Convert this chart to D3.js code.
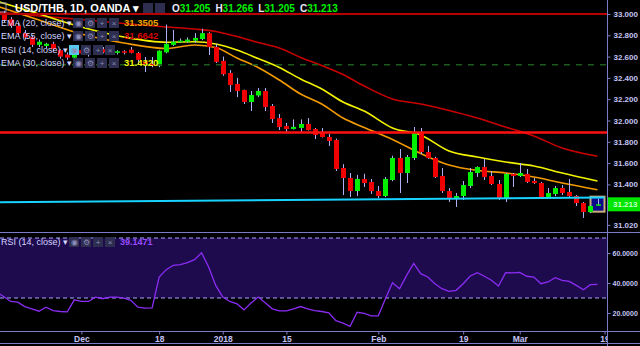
<!DOCTYPE html>
<html>
<head>
<meta charset="utf-8">
<title>USD/THB 1D</title>
<style>
  body { margin: 0; background: #000; }
  svg { display: block; font-family: "Liberation Sans", Arial, sans-serif; }
  .axis path { display: none; }
  .axis line { stroke: #7b7bc8; }
  .axis text { fill: #c4c4f4; font-size: 8px; font-weight: bold; }
  .axis.rsi text { font-size: 7px; }
  .axis.time text { font-size: 8.5px; }
  .leg { fill: #d4d4ff; font-size: 9px; }
</style>
</head>
<body>
<script src="https://cdn.jsdelivr.net/npm/d3@7"></script>
<script>
// daily candles, Nov 15 2017 .. Mar 16 2018
var dates = ["2017-11-15","2017-11-16","2017-11-17","2017-11-20","2017-11-21","2017-11-22","2017-11-23","2017-11-24",
  "2017-11-27","2017-11-28","2017-11-29","2017-11-30","2017-12-01","2017-12-04","2017-12-05","2017-12-06","2017-12-07",
  "2017-12-08","2017-12-11","2017-12-12","2017-12-13","2017-12-14","2017-12-15","2017-12-18","2017-12-19","2017-12-20",
  "2017-12-21","2017-12-22","2017-12-26","2017-12-27","2017-12-28","2017-12-29","2018-01-02","2018-01-03","2018-01-04",
  "2018-01-05","2018-01-08","2018-01-09","2018-01-10","2018-01-11","2018-01-12","2018-01-15","2018-01-16","2018-01-17",
  "2018-01-18","2018-01-19","2018-01-22","2018-01-23","2018-01-24","2018-01-25","2018-01-26","2018-01-29","2018-01-30",
  "2018-01-31","2018-02-01","2018-02-02","2018-02-05","2018-02-06","2018-02-07","2018-02-08","2018-02-09","2018-02-12",
  "2018-02-13","2018-02-14","2018-02-15","2018-02-16","2018-02-19","2018-02-20","2018-02-21","2018-02-22","2018-02-23",
  "2018-02-26","2018-02-27","2018-02-28","2018-03-01","2018-03-02","2018-03-05","2018-03-06","2018-03-07","2018-03-08",
  "2018-03-09","2018-03-12","2018-03-13","2018-03-14","2018-03-15","2018-03-16"];
var open = [33.04,33.01,32.95,32.89,32.82,32.78,32.71,32.70,32.72,32.66,32.62,32.59,32.66,32.65,32.63,32.67,32.645,
  32.635,32.65,32.665,32.634,32.55,32.53,32.515,32.64,32.71,32.745,32.74,32.75,32.765,32.82,32.69,32.56,32.446,32.343,
  32.286,32.174,32.235,32.277,32.136,32.023,31.948,31.92,31.93,31.967,31.92,31.883,31.845,31.817,31.554,31.46,31.338,
  31.451,31.423,31.338,31.291,31.441,31.648,31.507,31.648,31.883,31.704,31.648,31.479,31.338,31.263,31.291,31.385,
  31.507,31.563,31.479,31.404,31.272,31.498,31.48,31.498,31.432,31.413,31.282,31.31,31.366,31.329,31.291,31.225,
  31.141,31.205];
var high = [33.07,33.03,32.97,32.92,32.85,32.80,32.76,32.73,32.74,32.67,32.64,32.68,32.68,32.67,32.68,32.69,32.67,
  32.66,32.66,32.69,32.645,32.596,32.596,32.66,32.90,32.85,32.77,32.78,32.82,32.86,32.83,32.72,32.60,32.474,32.40,
  32.29,32.277,32.305,32.305,32.155,32.061,31.977,32.01,32.01,32.023,31.93,31.93,31.873,31.83,31.59,31.507,31.49,
  31.50,31.45,31.385,31.47,31.67,31.732,31.676,31.939,31.93,31.761,31.66,31.554,31.366,31.319,31.432,31.554,31.57,
  31.638,31.526,31.441,31.507,31.507,31.601,31.545,31.46,31.423,31.366,31.385,31.394,31.451,31.30,31.235,31.207,
  31.266];
var low = [32.98,32.92,32.87,32.80,32.76,32.69,32.69,32.68,32.65,32.58,32.57,32.56,32.62,32.60,32.62,32.63,32.62,
  32.62,32.62,32.63,32.52,32.455,32.50,32.50,32.63,32.70,32.73,32.73,32.73,32.755,32.615,32.54,32.42,32.268,32.22,
  32.155,32.089,32.22,32.089,31.977,31.911,31.883,31.915,31.883,31.905,31.826,31.84,31.761,31.526,31.30,31.282,31.29,
  31.376,31.31,31.27,31.28,31.43,31.319,31.413,31.629,31.685,31.64,31.46,31.319,31.235,31.188,31.254,31.366,31.47,
  31.441,31.394,31.254,31.235,31.376,31.469,31.413,31.404,31.272,31.275,31.29,31.30,31.282,31.197,31.085,31.13,
  31.205];
var close = [33.00,32.945,32.89,32.82,32.78,32.71,32.74,32.72,32.67,32.60,32.59,32.645,32.63,32.62,32.665,32.64,32.635,
  32.65,32.64,32.635,32.57,32.525,32.515,32.655,32.72,32.74,32.75,32.76,32.775,32.82,32.69,32.55,32.435,32.333,32.277,
  32.174,32.239,32.277,32.127,32.014,31.939,31.92,31.94,31.967,31.911,31.864,31.845,31.808,31.545,31.46,31.338,31.451,
  31.413,31.338,31.291,31.451,31.648,31.507,31.657,31.883,31.704,31.648,31.469,31.338,31.263,31.291,31.394,31.516,
  31.563,31.469,31.404,31.272,31.498,31.479,31.507,31.423,31.413,31.282,31.319,31.366,31.319,31.291,31.225,31.141,
  31.197,31.213];
var rsi = [33.9,31.0,27.7,27.2,24.3,22.8,21.2,23.9,21.6,21.0,20.8,28.8,27.7,27.7,30.6,29.5,30.6,30.6,29.9,28.4,
  23.9,23.2,23.4,44.0,48.9,51.8,52.3,53.6,55.6,60.1,50.7,38.4,30.6,27.7,26.1,22.1,26.6,30.6,26.8,22.8,
  21.4,21.4,22.8,24.3,22.8,21.6,21.0,20.1,14.9,13.2,11.1,20.5,19.8,18.1,18.1,29.5,40.2,36.2,45.1,53.0,
  46.2,44.0,39.5,36.2,34.4,35.1,39.5,44.7,46.9,44.5,41.8,38.0,46.9,46.7,47.1,44.5,44.0,39.5,40.7,43.6,
  41.8,41.1,38.4,35.5,38.9,39.1471];

// moving averages read at a few candles
var emaIdx = [0, 6, 12, 18, 24, 28, 31, 34, 37, 40, 43, 46, 49, 52, 56, 60, 64, 68, 72, 76, 80, 85];
var ema20 = [33.075, 32.944, 32.812, 32.728, 32.676, 32.709, 32.685, 32.587, 32.498, 32.380, 32.249, 32.155,
  32.023, 31.934, 31.822, 31.690, 31.582, 31.531, 31.507, 31.469, 31.413, 31.3505];
var ema30 = [33.122, 33.000, 32.878, 32.784, 32.735, 32.739, 32.718, 32.662, 32.582, 32.498, 32.390, 32.296,
  32.174, 32.089, 31.930, 31.864, 31.714, 31.657, 31.610, 31.573, 31.507, 31.432];
var ema55 = [33.019, 32.981, 32.948, 32.911, 32.878, 32.859, 32.836, 32.789, 32.732, 32.681, 32.592, 32.516,
  32.432, 32.324, 32.202, 32.155, 32.094, 32.023, 31.939, 31.854, 31.742, 31.6642];

var priceTicks = [33.0, 32.8, 32.6, 32.4, 32.2, 32.0, 31.8, 31.6, 31.4, 31.02];
var rsiTicks = [20, 40, 60];
var rsiBands = [70, 30];
var xTickIdx = [12, 23, 32, 41, 54, 66, 74, 86];
var xTickLabels = ["Dec", "18", "2018", "15", "Feb", "19", "Mar", "19"];
var topLevel = 33.0, redLevel = 31.887, dashLevel = 32.524;
var trendIdx = [0, 86], trendVal = [31.233, 31.277];
var last = {o: 31.205, h: 31.266, l: 31.205, c: 31.213};

var W = 640, H = 346, plotR = 607, split = 232, rsiBottom = 331;

var svg = d3.select("body").append("svg")
    .attr("width", W)
    .attr("height", H);
svg.append("rect").attr("width", W).attr("height", H).attr("fill", "#000");

var x = d3.scaleLinear().domain([0, 85]).range([-3.45, 597.5]);
var y = d3.scaleLinear().domain([31, 33]).range([227, 14]);
var yR = d3.scaleLinear().domain([20, 60]).range([313, 253]);

var defs = svg.append("defs");
defs.append("clipPath").attr("id", "cp").append("rect")
    .attr("x", 0).attr("y", 0).attr("width", plotR).attr("height", split);
defs.append("clipPath").attr("id", "cr").append("rect")
    .attr("x", 0).attr("y", split).attr("width", plotR).attr("height", rsiBottom - split);
defs.append("clipPath").attr("id", "cx").append("rect")
    .attr("x", 0).attr("y", rsiBottom).attr("width", plotR).attr("height", H - rsiBottom);

// ---- RSI pane
var gr = svg.append("g").attr("clip-path", "url(#cr)");
gr.append("rect")
    .attr("x", 0).attr("width", plotR)
    .attr("y", yR(rsiBands[0])).attr("height", yR(rsiBands[1]) - yR(rsiBands[0]))
    .attr("fill", "#1e0b4d");
gr.selectAll("line.band").data(rsiBands).enter().append("line")
    .attr("x1", 0).attr("x2", plotR)
    .attr("y1", function (d) { return yR(d); })
    .attr("y2", function (d) { return yR(d); })
    .attr("stroke", "#a8a8ff").attr("stroke-dasharray", "4,3");
gr.append("path")
    .datum(rsi)
    .attr("fill", "none")
    .attr("stroke", "#8b2cf5")
    .attr("stroke-width", 1.3)
    .attr("d", d3.line()
        .x(function (d, i) { return x(i); })
        .y(function (d) { return yR(d); }));

// ---- price pane
var gp = svg.append("g").attr("clip-path", "url(#cp)");

function emaLine(vals, color) {
    gp.append("path")
        .datum(vals)
        .attr("fill", "none")
        .attr("stroke", color)
        .attr("stroke-width", 1.6)
        .attr("d", d3.line()
            .curve(d3.curveMonotoneX)
            .x(function (d, k) { return x(emaIdx[k]); })
            .y(function (d) { return y(d); }));
}
emaLine(ema55, "#c80000");
emaLine(ema30, "#f2f200");
emaLine(ema20, "#f29a00");

// box round the last bar
gp.append("rect")
    .attr("x", x(85) - 7).attr("width", 14)
    .attr("y", y(last.h) - 2).attr("height", 15)
    .attr("fill", "#0b0b8a")
    .attr("stroke", "#c9ad7c").attr("stroke-width", 2);

var bars = gp.selectAll("g.bar").data(d3.range(dates.length)).enter().append("g");
bars.append("line")
    .attr("x1", function (i) { return Math.round(x(i)) + 0.5; })
    .attr("x2", function (i) { return Math.round(x(i)) + 0.5; })
    .attr("y1", function (i) { return y(high[i]); })
    .attr("y2", function (i) { return y(low[i]); })
    .attr("stroke", "#b0b0f8");
bars.append("rect")
    .attr("x", function (i) { return Math.round(x(i)) - 2; })
    .attr("width", 5)
    .attr("y", function (i) { return y(Math.max(open[i], close[i])); })
    .attr("height", function (i) { return Math.max(1.5, Math.abs(y(open[i]) - y(close[i]))); })
    .attr("fill", function (i) { return close[i] >= open[i] ? "#00f000" : "#f00000"; });

// drawings
gp.append("line").attr("x1", 0).attr("x2", plotR)
    .attr("y1", y(dashLevel)).attr("y2", y(dashLevel))
    .attr("stroke", "#1d5a1d").attr("stroke-width", 1.5).attr("stroke-dasharray", "6,6");
gp.append("line").attr("x1", 0).attr("x2", plotR)
    .attr("y1", y(topLevel)).attr("y2", y(topLevel))
    .attr("stroke", "#b80000").attr("stroke-width", 2);
gp.append("line").attr("x1", 0).attr("x2", plotR)
    .attr("y1", y(redLevel)).attr("y2", y(redLevel))
    .attr("stroke", "#ff1010").attr("stroke-width", 2.5);
gp.append("line")
    .attr("x1", x(trendIdx[0])).attr("x2", x(trendIdx[1]))
    .attr("y1", y(trendVal[0])).attr("y2", y(trendVal[1]))
    .attr("stroke", "#18d2ff").attr("stroke-width", 2);

// ---- frame and axes
var frame = "#7b7bc8";
svg.append("line").attr("x1", plotR + 0.5).attr("x2", plotR + 0.5).attr("y1", 0).attr("y2", H)
    .attr("stroke", frame);
svg.append("line").attr("x1", 0).attr("x2", W).attr("y1", split + 0.5).attr("y2", split + 0.5)
    .attr("stroke", frame);
svg.append("line").attr("x1", 0).attr("x2", W).attr("y1", rsiBottom + 0.5).attr("y2", rsiBottom + 0.5)
    .attr("stroke", frame);
svg.append("line").attr("x1", 0).attr("x2", W).attr("y1", H - 2.5).attr("y2", H - 2.5)
    .attr("stroke", frame);

svg.append("g")
    .attr("class", "axis")
    .attr("transform", "translate(" + (plotR + 0.5) + ",0)")
    .call(d3.axisRight(y).tickValues(priceTicks).tickFormat(d3.format(".3f")).tickSize(3));
svg.append("g")
    .attr("class", "axis rsi")
    .attr("transform", "translate(" + (plotR + 0.5) + ",0)")
    .call(d3.axisRight(yR).tickValues(rsiTicks).tickFormat(d3.format(".4f")).tickSize(3).tickPadding(2));
svg.append("g")
    .attr("class", "axis time")
    .attr("clip-path", "url(#cx)")
    .append("g")
    .attr("transform", "translate(0," + (rsiBottom + 0.5) + ")")
    .call(d3.axisBottom(x).tickValues(xTickIdx)
        .tickFormat(function (d, k) { return xTickLabels[k]; }).tickSize(3))
    .selectAll("text").attr("dy", "0.55em");

// last price tag
svg.append("rect")
    .attr("x", plotR + 1).attr("width", W - plotR)
    .attr("y", y(last.c) - 7).attr("height", 14)
    .attr("fill", "#00e600");
svg.append("text")
    .attr("x", plotR + 6).attr("y", y(last.c)).attr("dy", "0.35em")
    .attr("fill", "#c8ffc8").style("font-size", "8px").style("font-weight", "bold")
    .text(d3.format(".3f")(last.c));

// ---- legend
function icons(x0, yc, hl) {
    var glyph = ["\u25C9", "\u2699", "+", "\u00D7"];
    glyph.forEach(function (g, k) {
        svg.append("rect")
            .attr("x", x0 + k * 12).attr("y", yc - 5)
            .attr("width", 10).attr("height", 10)
            .attr("fill", hl && k === 0 ? "#58c8f0" : "#2e2e50");
        svg.append("text")
            .attr("x", x0 + k * 12 + 5).attr("y", yc).attr("dy", "0.35em")
            .attr("text-anchor", "middle")
            .attr("fill", "#8c8cb8").style("font-size", "8px")
            .text(g);
    });
}

svg.append("rect").attr("x", -2).attr("y", 3).attr("width", 8).attr("height", 9)
    .attr("fill", "none").attr("stroke", "#9a9ab8");
svg.append("text")
    .attr("x", 15).attr("y", 8).attr("dy", "0.35em")
    .attr("fill", "#ffffff").style("font-size", "11px").style("font-weight", "bold")
    .text("USD/THB, 1D, OANDA \u25BE");
[[143, 0], [155, 1]].forEach(function (p) {
    svg.append("rect").attr("x", p[0]).attr("y", 3).attr("width", 10).attr("height", 10)
        .attr("fill", "#2e2e50");
});
var ohlc = svg.append("text")
    .attr("x", 172).attr("y", 8).attr("dy", "0.35em")
    .style("font-size", "10px").style("font-weight", "bold");
[["O", last.o], ["H", last.h], ["L", last.l], ["C", last.c]].forEach(function (p, k) {
    ohlc.append("tspan").attr("fill", "#e8e8ff").attr("dx", k ? 5 : 0).text(p[0]);
    ohlc.append("tspan").attr("fill", "#00f000").text(d3.format(".3f")(p[1]));
});

var legendRows = [
    {label: "EMA (20, close) \u25BE", yc: 23, ix: 73, value: "31.3505", color: "#eba400"},
    {label: "EMA (55, close) \u25BE", yc: 36, ix: 73, value: "31.6642", color: "#d80000"},
    {label: "RSI (14, close) \u25BE", yc: 50, ix: 69, value: null, color: null, hl: true},
    {label: "EMA (30, close) \u25BE", yc: 63, ix: 73, value: "31.4320", color: "#f4f400"}
];
legendRows.forEach(function (r) {
    svg.append("text").attr("class", "leg")
        .attr("x", 1).attr("y", r.yc).attr("dy", "0.35em").text(r.label);
    icons(r.ix, r.yc, r.hl);
    if (r.value) {
        svg.append("text")
            .attr("x", 124).attr("y", r.yc).attr("dy", "0.35em")
            .attr("fill", r.color).style("font-size", "9.5px").style("font-weight", "bold")
            .text(r.value);
    }
});

svg.append("text").attr("class", "leg")
    .attr("x", 1).attr("y", 242).attr("dy", "0.35em").text("RSI (14, close) \u25BE");
icons(69, 242, false);
svg.append("text")
    .attr("x", 120).attr("y", 242).attr("dy", "0.35em")
    .attr("fill", "#9a4cff").style("font-size", "9px").style("font-weight", "bold")
    .text(d3.format(".4f")(rsi[rsi.length - 1]));
</script>
</body>
</html>
